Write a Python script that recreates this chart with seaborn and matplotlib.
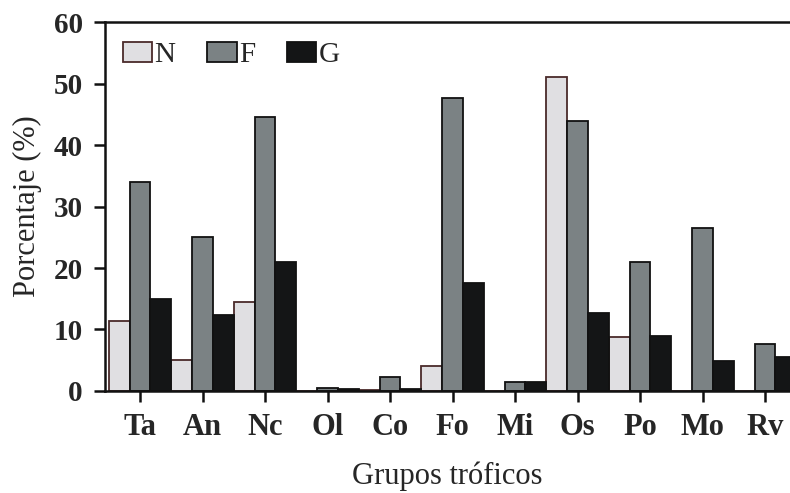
import seaborn as sns
import matplotlib.pyplot as plt
import pandas as pd

grupos = ['Ta', 'An', 'Nc', 'Ol', 'Co', 'Fo', 'Mi', 'Os', 'Po', 'Mo', 'Rv']
series = ['N', 'F', 'G']
valores_N = [11.3, 5.0, 14.5, 0.0, 0.2, 4.0, 0.0, 51.0, 8.7, 0.0, 0.0]
valores_F = [34.0, 25.0, 44.5, 0.5, 2.2, 47.7, 1.5, 44.0, 21.0, 26.5, 7.7]
valores_G = [15.0, 12.3, 21.0, 0.3, 0.3, 17.5, 1.5, 12.7, 9.0, 4.8, 5.5]

df = pd.DataFrame({
    'grupo': grupos * 3,
    'serie': ['N'] * len(grupos) + ['F'] * len(grupos) + ['G'] * len(grupos),
    'valor': valores_N + valores_F + valores_G,
})

colores = {'N': '#e0dfe2', 'F': '#7b8284', 'G': '#141516'}
bordes = {'N': '#4a2a2a', 'F': '#111111', 'G': '#111111'}

sns.set_style('white')
plt.rcParams['font.family'] = ['Liberation Serif', 'DejaVu Serif']

fig = plt.figure(figsize=(7.9, 4.93), dpi=100)
ax = fig.add_axes([0.133, 0.207, 0.867, 0.748])

sns.barplot(data=df, x='grupo', y='valor', hue='serie', order=grupos,
            hue_order=series, palette=colores, width=1.0, gap=0,
            saturation=1, ax=ax)

for cont, s in zip(ax.containers, series):
    for p in cont:
        p.set_edgecolor(bordes[s])
        p.set_linewidth(1.3)

ax.set_xlim(-0.56, 10.4)
ax.set_ylim(0, 60)
ax.set_yticks([0, 10, 20, 30, 40, 50, 60])

for side in ['left', 'bottom', 'top']:
    ax.spines[side].set_linewidth(1.8)
    ax.spines[side].set_color('#111111')
ax.spines['right'].set_visible(False)

ax.tick_params(axis='both', direction='out', length=8, width=1.8,
               color='#111111', left=True, bottom=True)
ax.tick_params(axis='y', pad=8)
ax.tick_params(axis='x', pad=8)
for lab in ax.get_yticklabels():
    lab.set_fontsize(21)
    lab.set_fontweight('bold')
for lab in ax.get_xticklabels():
    lab.set_fontsize(22)
    lab.set_fontweight('bold')

ax.set_xlabel('Grupos tróficos', fontsize=22, labelpad=14)
ax.set_ylabel('Porcentaje (%)', fontsize=22, labelpad=8)

leg = ax.legend(loc='upper left', ncol=3, frameon=False, fontsize=21,
                handlelength=1.0, handleheight=0.66, handletextpad=0.08,
                columnspacing=1.1, borderpad=0, borderaxespad=0,
                bbox_to_anchor=(0.026, 0.946))
for h, s in zip(leg.legend_handles, series):
    h.set_edgecolor(bordes[s])
    h.set_linewidth(1.3)

fig.savefig('out.png', dpi=100)
